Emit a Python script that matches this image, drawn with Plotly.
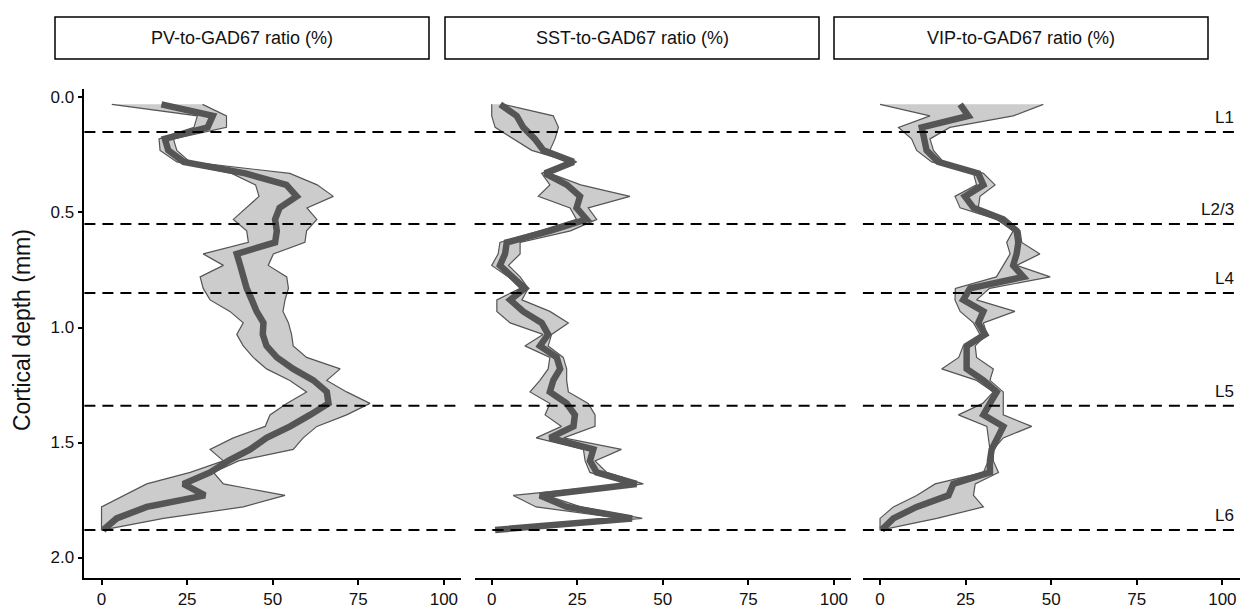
import plotly.graph_objects as go

# ---------------- data ----------------
depth = [0.03, 0.08, 0.13, 0.18, 0.23, 0.28, 0.33, 0.38, 0.43, 0.48,
         0.53, 0.58, 0.63, 0.68, 0.73, 0.78, 0.83, 0.88, 0.93, 0.98,
         1.03, 1.08, 1.13, 1.18, 1.23, 1.28, 1.33, 1.38, 1.43, 1.48,
         1.53, 1.58, 1.63, 1.68, 1.73, 1.78, 1.83, 1.88]

pv_mean = [17.5, 32.5, 31, 18.5, 19.5, 24, 42, 54, 57, 52,
           50.7, 51.2, 50.7, 39.5, 40.5, 41.4, 42.4, 43.9, 45.3, 47.3,
           47.1, 48.2, 51.2, 56, 61.9, 65.8, 66.3, 60.9, 55.1, 48.2,
           43.4, 37, 31.7, 23.9, 30.2, 13.2, 4.4, 0.5]
pv_lo = [3, 28, 27, 16.8, 17.1, 22, 38, 45, 46, 42.4,
         38.5, 42.4, 42.9, 29.7, 35.6, 28.8, 29.7, 31.7, 37.5, 41.4,
         39.5, 41.4, 44.3, 48.2, 55, 59.9, 54.1, 49.2, 47.8, 38.5,
         31.7, 35.6, 25.9, 13.2, 6.4, 0, 0, 0]
pv_hi = [29.5, 36.5, 36.5, 21, 22, 25.8, 55, 63, 67.7, 60,
         62.9, 59.9, 59.4, 50.2, 48.7, 54.1, 54.6, 53.6, 53, 54.6,
         55.5, 56, 59.9, 69.7, 65.8, 71.6, 78.4, 71.6, 62.9, 58.9,
         56, 40, 32.7, 35.6, 53.6, 41.4, 18.1, 0.5]

sst_mean = [2.5, 7.3, 9.2, 12.6, 15.1, 23.9, 15.6, 22, 25.8, 24.8,
            27.7, 17, 4.4, 3.9, 2.4, 6.3, 9.7, 5.4, 9.2, 14.6,
            16.5, 14.1, 19, 20, 18, 17, 21.9, 24.3, 23.9, 17,
            29.7, 28.7, 30.7, 42.3, 14.1, 22, 41, 1]
sst_lo = [0, 0, 1, 6.3, 11.7, 22.9, 14.6, 17, 13.6, 22.9,
          24.8, 14, 2.4, 1.9, 0, 4.9, 8.3, 1.5, 1.5, 5.4,
          15, 9.7, 17, 16.5, 14.1, 11.2, 17, 15.6, 20.4, 13,
          26.8, 27.3, 28.7, 40, 6.3, 13, 38, 0]
sst_hi = [3.5, 18, 19.5, 18.5, 17, 24.8, 17, 26, 40.4, 28.2,
          30.7, 23, 8.3, 8.3, 4.9, 8.3, 10.7, 8.8, 17, 22.4,
          17.5, 16.5, 20.9, 21.9, 21.9, 22.4, 28.2, 30.2, 30.2, 21,
          37.9, 30.2, 33.6, 44.3, 16, 26, 44, 2.4]

vip_mean = [23.4, 25.8, 12.2, 12.7, 13.6, 17, 28.7, 30.2, 24.8, 27.3,
            36, 39.9, 40.4, 39.9, 38.9, 41.9, 26.3, 24.3, 30.2, 28.7,
            30.7, 25.3, 25.3, 25.3, 30.2, 34.1, 32.1, 30.2, 36, 34.1,
            32.6, 32.1, 32.1, 21.4, 20, 10.7, 3.9, 0.5]
vip_lo = [0, 14.6, 5.4, 9.2, 10.7, 15.1, 27.3, 28.2, 21.9, 23.4,
          34.1, 38.9, 37, 38, 36, 34, 22, 21.9, 23.4, 27.3,
          29.2, 24.3, 23, 18, 28.2, 33.1, 30, 22.9, 31.2, 31.6,
          32.1, 31.6, 30.2, 16.1, 10.7, 3.9, 0, 0]
vip_hi = [47.7, 38.9, 20.4, 14.6, 15.6, 18.5, 30.2, 33.6, 29.2, 28.7,
          37, 40.9, 41.4, 46.7, 39.9, 49.7, 32, 28.2, 39.4, 30.2,
          31.2, 27.8, 28.2, 33.1, 32.1, 36, 36, 36, 44.3, 36,
          33.1, 33.1, 34.6, 27.8, 27.3, 30.2, 16.6, 0.5]

panel_titles = ["PV-to-GAD67 ratio (%)", "SST-to-GAD67 ratio (%)", "VIP-to-GAD67 ratio (%)"]
layer_depths = [0.15, 0.55, 0.85, 1.34, 1.88]
layer_labels = ["L1", "L2/3", "L4", "L5", "L6"]
x_ticks = [0, 25, 50, 75, 100]
y_ticks = [0.0, 0.5, 1.0, 1.5, 2.0]
y_tick_text = ["0.0", "0.5", "1.0", "1.5", "2.0"]

# ---------------- layout geometry (pixels) ----------------
W, H = 1247, 612
panels_px = [(84.4, 461.0), (474.6, 851.0), (862.9, 1239.5)]
strips_px = [(55, 429), (445, 819), (834, 1208)]
plot_top, plot_bot = 88.5, 578.0
strip_top, strip_bot = 17, 59

FONT = "Arial, Liberation Sans, sans-serif"
LINE_COL = "#555555"
FILL_COL = "#CCCCCC"
TXT = "#111111"

fig = go.Figure()
series = [(pv_mean, pv_lo, pv_hi), (sst_mean, sst_lo, sst_hi), (vip_mean, vip_lo, vip_hi)]
for i, (m, lo, hi) in enumerate(series):
    xa = "x" if i == 0 else f"x{i+1}"
    fig.add_trace(go.Scatter(
        x=list(lo) + list(hi)[::-1], y=list(depth) + list(depth)[::-1],
        mode="lines", fill="toself", fillcolor=FILL_COL,
        line=dict(color=LINE_COL, width=1.2), xaxis=xa, yaxis="y",
        showlegend=False, hoverinfo="skip"))
    fig.add_trace(go.Scatter(
        x=m, y=depth, mode="lines",
        line=dict(color=LINE_COL, width=6.5, shape="linear"),
        xaxis=xa, yaxis="y", showlegend=False))

axis_common = dict(range=[-5, 105], tickvals=x_ticks, ticktext=[str(t) for t in x_ticks],
                   showgrid=False, zeroline=False, showline=True, linecolor="black",
                   linewidth=1.5, ticks="outside", ticklen=5, tickwidth=1.5,
                   tickcolor="black", tickfont=dict(family=FONT, size=17, color=TXT),
                   anchor="y", fixedrange=True)
layout = dict(width=W, height=H, margin=dict(l=0, r=0, t=0, b=0),
              paper_bgcolor="white", plot_bgcolor="white", showlegend=False)
for i, (x0, x1) in enumerate(panels_px):
    key = "xaxis" if i == 0 else f"xaxis{i+1}"
    layout[key] = dict(axis_common, domain=[x0 / W, x1 / W])
layout["yaxis"] = dict(range=[2.089, -0.039], domain=[(H - plot_bot) / H, (H - plot_top) / H],
                       tickvals=y_ticks, ticktext=y_tick_text, showgrid=False, zeroline=False,
                       showline=True, linecolor="black", linewidth=1.5, ticks="outside",
                       ticklen=5, tickwidth=1.5, tickcolor="black",
                       tickfont=dict(family=FONT, size=17, color=TXT),
                       anchor="x", fixedrange=True)
fig.update_layout(**layout)

shapes = []
annotations = []
# dashed layer lines per panel
for i in range(3):
    xr = "x domain" if i == 0 else f"x{i+1} domain"
    for dd in layer_depths:
        shapes.append(dict(type="line", xref=xr, yref="y", x0=0, x1=1, y0=dd, y1=dd,
                           line=dict(color="black", width=2, dash="11px,7px"), layer="above"))
# layer labels on right panel
for dd, lab in zip(layer_depths, layer_labels):
    annotations.append(dict(xref="x3 domain", yref="y", x=0.99, y=dd, text=lab,
                            showarrow=False, xanchor="right", yanchor="bottom", yshift=3,
                            font=dict(family=FONT, size=17, color=TXT)))
# strip boxes
for (sx0, sx1), title in zip(strips_px, panel_titles):
    shapes.append(dict(type="rect", xref="paper", yref="paper",
                       x0=sx0 / W, x1=sx1 / W, y0=(H - strip_bot) / H, y1=(H - strip_top) / H,
                       line=dict(color="black", width=1.5), fillcolor="white"))
    annotations.append(dict(xref="paper", yref="paper", x=(sx0 + sx1) / 2 / W,
                            y=(H - (strip_top + strip_bot) / 2) / H, text=title, showarrow=False,
                            xanchor="center", yanchor="middle",
                            font=dict(family=FONT, size=18, color=TXT)))
# y axis title
annotations.append(dict(xref="paper", yref="paper", x=22 / W, y=(H - 330) / H,
                        text="Cortical depth (mm)", textangle=-90, showarrow=False,
                        xanchor="center", yanchor="middle",
                        font=dict(family=FONT, size=23, color=TXT)))
fig.update_layout(shapes=shapes, annotations=annotations)

fig.write_html("out.html")
